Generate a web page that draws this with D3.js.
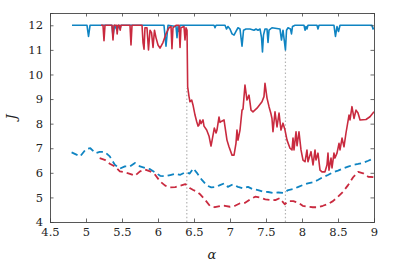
<!DOCTYPE html>
<html>
<head>
    <script src="https://d3js.org/d3.v7.min.js"></script>
    <style>
        body { margin: 0; background: #fff; }
    </style>
</head>
<body>
    <div id="chart"></div>
    <script>
        // series: [alpha, J]
        const blueSolid = [
            [4.806, 12], [5.014, 12], [5.035, 11.55], [5.056, 12], [5.361, 12], [5.375, 11.55], [5.396, 12],
            [5.431, 11.8], [5.451, 12], [5.472, 11.85], [5.486, 12], [6.083, 12], [6.111, 11.15], [6.139, 12],
            [6.25, 11.95], [6.264, 11.5], [6.278, 11.95], [6.292, 11.75], [6.306, 12], [6.778, 12], [6.792, 11.9],
            [6.806, 12], [6.931, 12], [6.951, 11.85], [6.972, 11.95], [7.0, 11.85], [7.028, 11.65], [7.056, 11.6],
            [7.083, 11.75], [7.111, 11.9], [7.139, 11.85], [7.167, 11.15], [7.188, 11.8], [7.222, 11.85],
            [7.278, 11.85], [7.333, 11.8], [7.361, 11.85], [7.389, 11.8], [7.417, 11.85], [7.438, 11.5],
            [7.451, 10.92], [7.465, 11.6], [7.486, 11.85], [7.514, 11.85], [7.528, 11.3], [7.542, 11.8],
            [7.583, 11.9], [7.694, 11.85], [7.715, 11.4], [7.736, 11.8], [7.77, 11.0], [7.785, 11.8],
            [7.806, 11.9], [7.84, 11.85], [7.854, 11.65], [7.868, 11.95], [7.903, 12], [8.028, 12], [8.042, 11.8],
            [8.056, 11.95], [8.069, 11.85], [8.083, 12], [8.208, 12], [8.222, 11.85], [8.236, 12], [8.444, 12],
            [8.465, 11.55], [8.486, 11.95], [8.507, 11.75], [8.528, 12], [8.972, 12], [8.986, 11.85], [9.0, 11.9]
        ];
        const redSolid = [
            [5.208, 12], [5.236, 12], [5.25, 11.37], [5.264, 12], [5.361, 12], [5.375, 11.4], [5.389, 12],
            [5.424, 12], [5.433, 11.65], [5.444, 12], [5.465, 12], [5.475, 11.8], [5.486, 12], [5.611, 12],
            [5.625, 11.2], [5.639, 12], [5.778, 12], [5.792, 11.3], [5.806, 11.03], [5.819, 11.9], [5.847, 11.9],
            [5.868, 11.0], [5.889, 11.8], [5.91, 11.7], [5.931, 11.1], [5.951, 11.8], [5.972, 11.5], [6.0, 11.2],
            [6.028, 11.07], [6.069, 11.3], [6.111, 11.65], [6.153, 11.9], [6.181, 11.95], [6.194, 11.05],
            [6.208, 11.9], [6.25, 12], [6.292, 12], [6.306, 11.1], [6.319, 11.9], [6.361, 11.95], [6.375, 11.4],
            [6.389, 11.9], [6.403, 11.8], [6.412, 9.5], [6.431, 9.1], [6.444, 8.89], [6.468, 8.96], [6.486, 8.76],
            [6.514, 8.35], [6.538, 8.08], [6.556, 7.9], [6.569, 7.94], [6.583, 8.15], [6.597, 8.0], [6.625, 8.15],
            [6.639, 7.9], [6.676, 7.74], [6.708, 7.5], [6.736, 7.09], [6.75, 7.3], [6.782, 7.82], [6.806, 7.62],
            [6.819, 7.74], [6.847, 8.27], [6.861, 8.05], [6.885, 8.1], [6.917, 8.15], [6.931, 7.87], [6.958, 7.33],
            [6.986, 7.06], [7.028, 6.72], [7.056, 6.72], [7.083, 7.2], [7.097, 7.74], [7.111, 7.33], [7.139, 7.74],
            [7.167, 8.55], [7.181, 8.6], [7.208, 9.57], [7.236, 8.96], [7.264, 9.16], [7.292, 8.55], [7.319, 8.48],
            [7.375, 8.63], [7.444, 8.89], [7.472, 9.1], [7.486, 9.64], [7.514, 9.04], [7.542, 8.69], [7.569, 8.4],
            [7.583, 8.21], [7.597, 7.67], [7.625, 8.48], [7.653, 7.87], [7.681, 8.43], [7.708, 7.74], [7.736, 8.02],
            [7.764, 7.74], [7.792, 7.33], [7.833, 7.0], [7.861, 6.93], [7.875, 7.41], [7.889, 6.93], [7.917, 7.67],
            [7.931, 7.1], [7.958, 7.67], [7.986, 6.93], [8.014, 6.52], [8.042, 6.45], [8.069, 6.93], [8.083, 6.45],
            [8.125, 6.86], [8.153, 6.32], [8.181, 6.93], [8.194, 6.52], [8.222, 6.8], [8.25, 6.11], [8.278, 6.04],
            [8.319, 6.04], [8.347, 6.32], [8.361, 6.8], [8.375, 6.11], [8.403, 6.6], [8.417, 6.2], [8.444, 6.8],
            [8.458, 6.6], [8.486, 6.8], [8.514, 7.2], [8.528, 6.93], [8.556, 7.41], [8.583, 7.06], [8.611, 7.62],
            [8.653, 8.35], [8.667, 8.15], [8.694, 8.69], [8.722, 8.21], [8.75, 8.55], [8.778, 8.43], [8.806, 8.15],
            [8.889, 8.17], [8.944, 8.28], [9.0, 8.48]
        ];
        const blueDashed = [
            [4.80, 6.83], [4.92, 6.67], [5.00, 6.97], [5.06, 7.0], [5.13, 6.8], [5.19, 6.85], [5.26, 6.85],
            [5.33, 6.67], [5.40, 6.33], [5.47, 6.17], [5.54, 6.26], [5.61, 6.26], [5.68, 6.4], [5.75, 6.26],
            [5.82, 6.2], [5.89, 6.15], [5.96, 6.02], [6.03, 5.88], [6.10, 5.86], [6.17, 5.91], [6.24, 5.96],
            [6.31, 5.92], [6.38, 6.02], [6.44, 5.97], [6.49, 6.18], [6.54, 6.0], [6.61, 5.71], [6.68, 5.48],
            [6.74, 5.41], [6.81, 5.43], [6.86, 5.5], [6.92, 5.57], [6.97, 5.43], [7.04, 5.53], [7.11, 5.43],
            [7.18, 5.37], [7.25, 5.43], [7.32, 5.33], [7.39, 5.3], [7.46, 5.23], [7.53, 5.22], [7.60, 5.18],
            [7.67, 5.2], [7.74, 5.18], [7.81, 5.3], [7.88, 5.34], [7.95, 5.43], [8.01, 5.5], [8.08, 5.57],
            [8.15, 5.61], [8.22, 5.71], [8.29, 5.82], [8.36, 5.91], [8.43, 6.02], [8.50, 6.09], [8.57, 6.18],
            [8.64, 6.25], [8.71, 6.32], [8.78, 6.36], [8.85, 6.41], [8.92, 6.49], [9.00, 6.59]
        ];
        const redDashed = [
            [5.19, 6.6], [5.26, 6.53], [5.33, 6.37], [5.40, 6.26], [5.47, 6.06], [5.54, 6.02], [5.61, 5.96],
            [5.68, 5.88], [5.75, 6.06], [5.82, 6.13], [5.89, 6.06], [5.96, 5.92], [6.03, 5.65], [6.10, 5.48],
            [6.17, 5.41], [6.24, 5.42], [6.31, 5.48], [6.38, 5.54], [6.44, 5.38], [6.49, 5.3], [6.54, 5.23],
            [6.58, 5.14], [6.65, 4.92], [6.72, 4.66], [6.79, 4.6], [6.86, 4.65], [6.93, 4.66], [7.00, 4.62],
            [7.07, 4.66], [7.14, 4.76], [7.21, 4.78], [7.28, 4.92], [7.35, 5.03], [7.42, 4.99], [7.49, 4.92],
            [7.56, 4.9], [7.63, 4.89], [7.69, 4.97], [7.76, 4.72], [7.81, 4.85], [7.88, 4.85], [7.95, 4.78],
            [8.01, 4.66], [8.08, 4.62], [8.15, 4.6], [8.22, 4.6], [8.29, 4.66], [8.36, 4.73], [8.43, 4.85],
            [8.50, 5.03], [8.57, 5.23], [8.64, 5.5], [8.71, 5.82], [8.78, 6.04], [8.85, 5.98], [8.92, 5.84],
            [9.00, 5.82]
        ];
        // vertical markers: [alpha, top J]
        const markers = [[6.4, 9.45], [7.77, 11.0]];
        const xTicks = [4.5, 5, 5.5, 6, 6.5, 7, 7.5, 8, 8.5, 9];
        const yTicks = [4, 5, 6, 7, 8, 9, 10, 11, 12];

        const width = 399, height = 266;
        const margin = { top: 13, right: 25, bottom: 44, left: 50 };
        const blue = "#0f84c2", red = "#c92a3f";
        const serif = "'DejaVu Serif', serif";

        const svg = d3.select("#chart").append("svg")
            .attr("width", width)
            .attr("height", height);

        const x = d3.scaleLinear().domain([4.5, 9]).range([margin.left, width - margin.right]);
        const y = d3.scaleLinear().domain([4, 12.5]).range([height - margin.bottom, margin.top]);

        svg.append("clipPath").attr("id", "clip")
            .append("rect")
            .attr("x", margin.left).attr("y", margin.top)
            .attr("width", width - margin.left - margin.right)
            .attr("height", height - margin.top - margin.bottom);

        // dotted markers
        svg.append("g").selectAll("line")
            .data(markers)
            .join("line")
            .attr("x1", d => x(d[0])).attr("x2", d => x(d[0]))
            .attr("y1", y(4)).attr("y2", d => y(d[1]))
            .attr("stroke", "#b4b4b4")
            .attr("stroke-width", 1.2)
            .attr("stroke-dasharray", "1.5,2.2");

        const line = d3.line().x(d => x(d[0])).y(d => y(d[1]));
        const plot = svg.append("g").attr("clip-path", "url(#clip)");

        const series = [
            { data: blueDashed, color: blue, dash: "6.5,4" },
            { data: redDashed, color: red, dash: "6.5,4" },
            { data: blueSolid, color: blue, dash: null },
            { data: redSolid, color: red, dash: null }
        ];
        series.forEach(s => {
            plot.append("path")
                .datum(s.data)
                .attr("d", line)
                .attr("fill", "none")
                .attr("stroke", s.color)
                .attr("stroke-width", s.dash ? 1.8 : 1.6)
                .attr("stroke-linejoin", "round")
                .attr("stroke-dasharray", s.dash);
        });

        // frame with inward ticks on all sides
        const axisColor = "#444";
        const xb = d3.axisBottom(x).tickValues(xTicks).tickSize(-3.5).tickPadding(6).tickFormat(d3.format("~g"));
        const xt = d3.axisTop(x).tickValues(xTicks).tickSize(-3.5).tickFormat("");
        const yl = d3.axisLeft(y).tickValues(yTicks).tickSize(-3.5).tickPadding(7);
        const yr = d3.axisRight(y).tickValues(yTicks).tickSize(-3.5).tickFormat("");

        const gxb = svg.append("g").attr("transform", `translate(0,${height - margin.bottom})`).call(xb);
        svg.append("g").attr("transform", `translate(0,${margin.top})`).call(xt);
        const gyl = svg.append("g").attr("transform", `translate(${margin.left},0)`).call(yl);
        svg.append("g").attr("transform", `translate(${width - margin.right},0)`).call(yr);

        svg.selectAll("g").attr("font-family", null);
        svg.selectAll(".domain").attr("stroke", axisColor).attr("stroke-width", 0.9);
        svg.selectAll(".tick line").attr("stroke", axisColor).attr("stroke-width", 0.8);
        svg.selectAll(".tick text")
            .style("font-family", serif)
            .style("font-size", "11.5px")
            .style("fill", "#222");

        svg.append("text")
            .attr("x", (margin.left + width - margin.right) / 2)
            .attr("y", 259)
            .attr("text-anchor", "middle")
            .style("font-family", serif)
            .style("font-size", "13px")
            .style("font-style", "italic")
            .style("fill", "#222")
            .text("α");

        svg.append("text")
            .attr("transform", `translate(16,117) rotate(-90)`)
            .attr("text-anchor", "middle")
            .style("font-family", serif)
            .style("font-size", "13px")
            .style("font-style", "italic")
            .style("fill", "#222")
            .text("J");
    </script>
</body>
</html>
